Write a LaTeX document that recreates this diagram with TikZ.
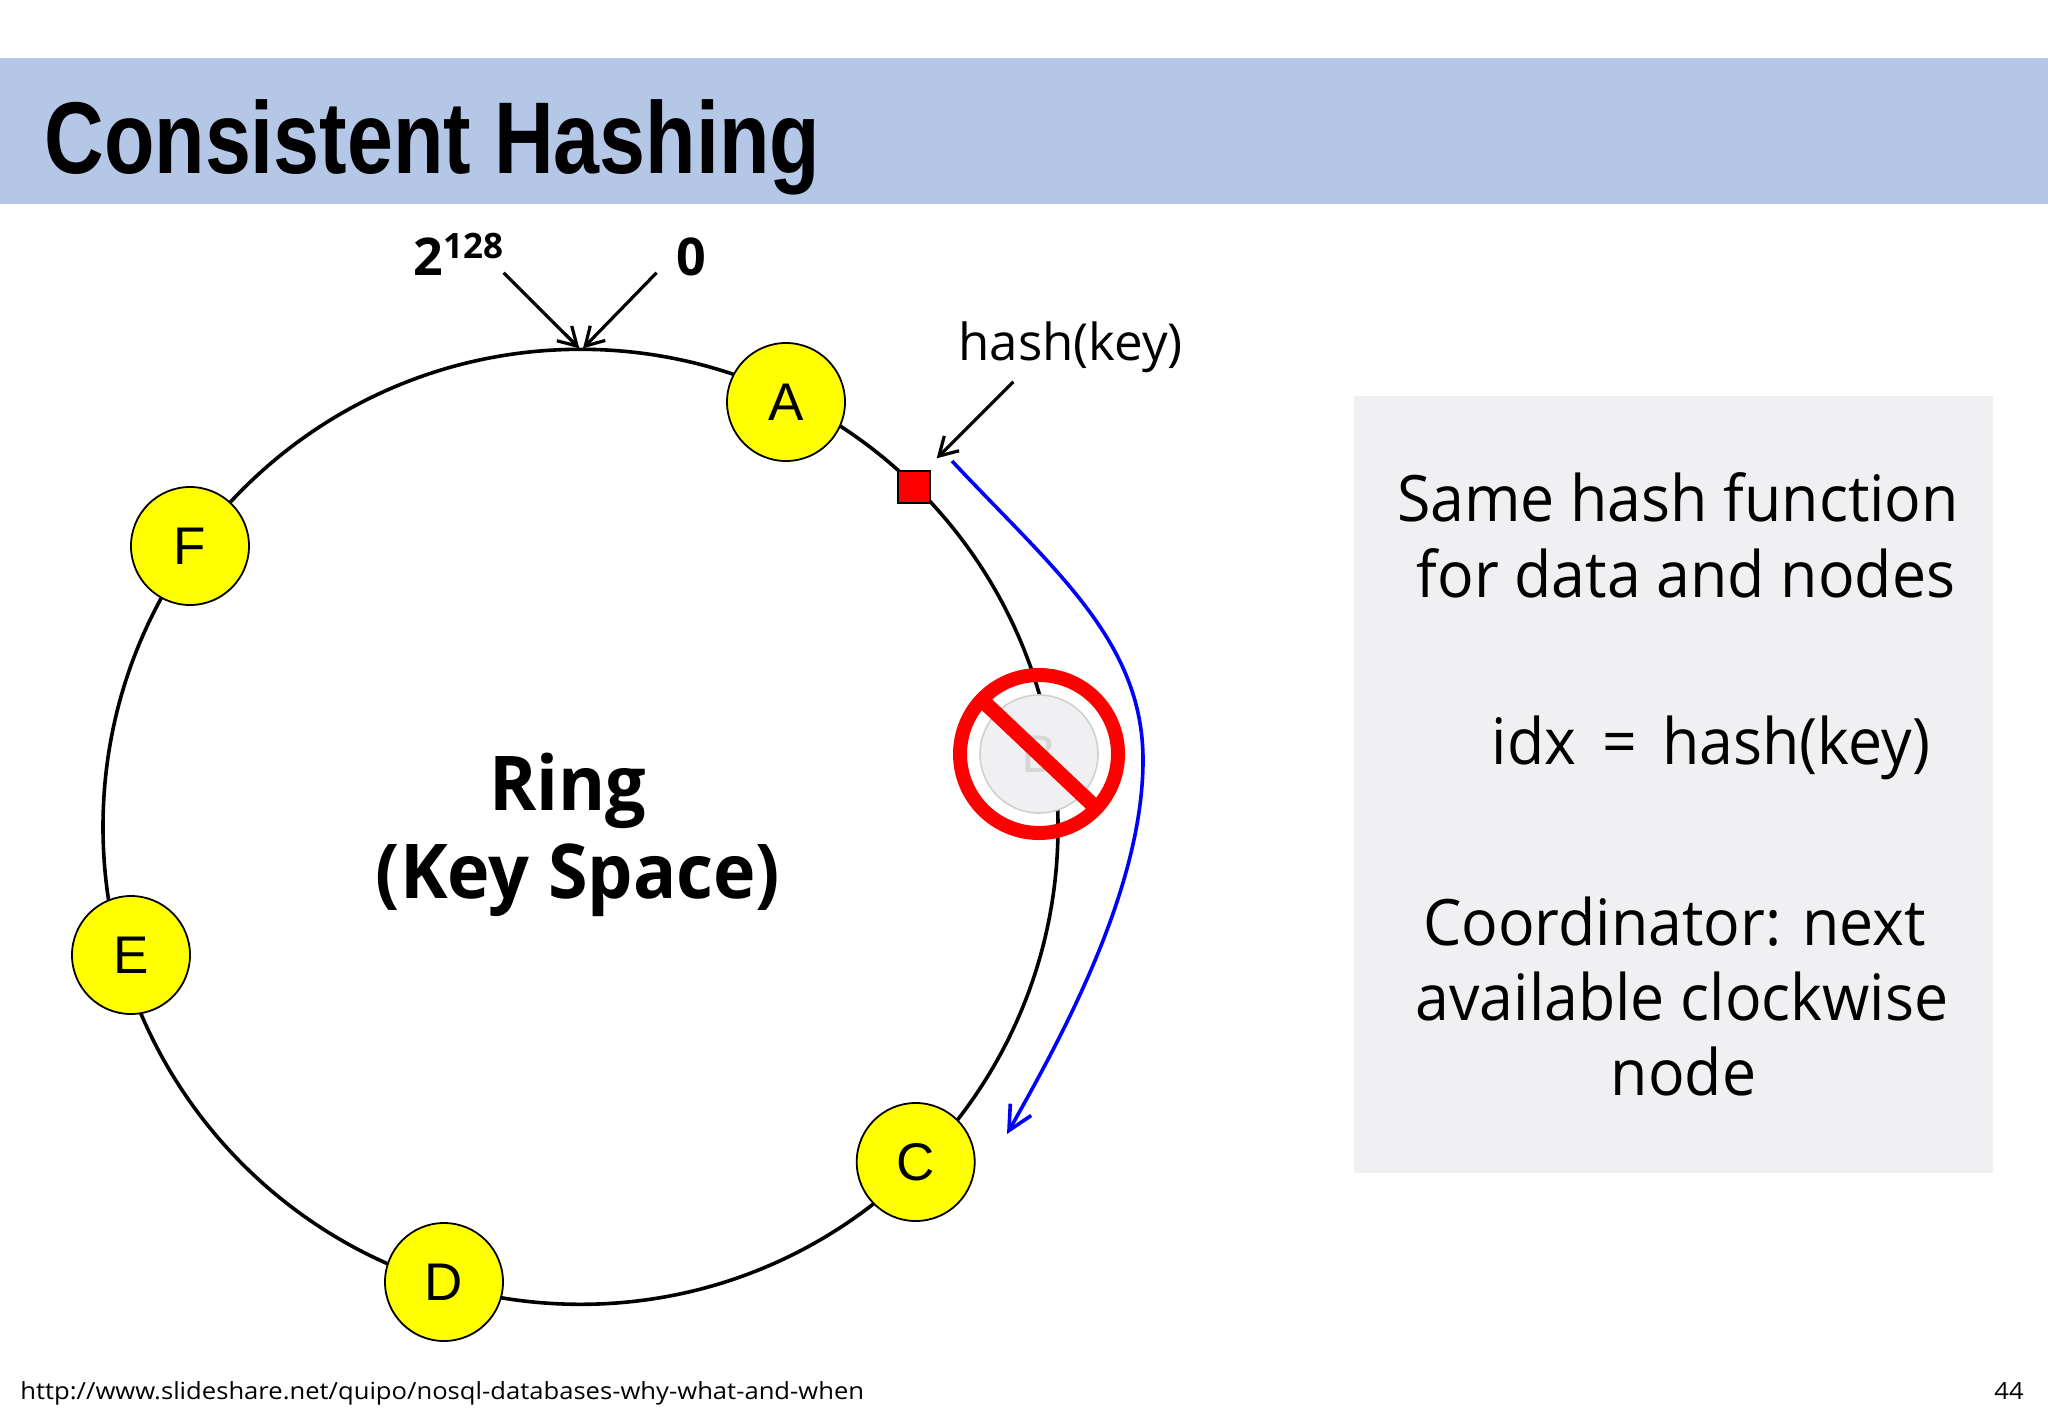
\documentclass[tikz,border=0pt]{standalone}
\usepackage{fontspec}
\setmainfont{Open Sans}
\newfontfamily\titlefont[FakeStretch=0.81]{Liberation Sans}
\newfontfamily\segoe[FakeStretch=0.95]{Open Sans}
\newfontfamily\segoebold[FakeStretch=0.95]{Open Sans}
\newfontfamily\footfont[FakeStretch=1.085]{Open Sans}
\newfontfamily\arialf{Liberation Sans}
\usetikzlibrary{arrows.meta}
\definecolor{barblue}{RGB}{180,199,231}
\definecolor{boxgray}{RGB}{240,240,243}
\definecolor{ghostfill}{RGB}{240,240,242}
\definecolor{ghostline}{RGB}{208,208,208}
\definecolor{ghosttext}{RGB}{214,214,214}
\definecolor{nodeyellow}{RGB}{255,255,0}
\definecolor{arrowblue}{RGB}{0,0,255}
\tikzset{
  keynode/.style={circle, draw=black, line width=0.9pt, fill=nodeyellow, minimum size=59pt, inner sep=0pt, outer sep=0pt, font=\arialf\fontsize{26.5}{26.5}\selectfont},
  ptr/.style={draw=black, line width=1.6pt, -{Straight Barb[length=9pt,width=10.5pt]}},
  sidetext/.style={font=\segoe\fontsize{32}{32}\selectfont, anchor=base, inner sep=0pt},
}
\begin{document}
\begin{tikzpicture}[x=0.5pt,y=-0.5pt]
\useasboundingbox (0,0) rectangle (2048,1418);
\fill[white] (0,0) rectangle (2048,1418);
% title bar
\fill[barblue] (0,58.5) rectangle (2048,204);
\node[anchor=base west, inner sep=0pt] (title) at (44,173) {\titlefont\bfseries\fontsize{51}{51}\selectfont Consistent Hashing};

% ring
\node[circle, draw=black, line width=1.8pt, minimum size=477.5pt, inner sep=0pt, outer sep=0pt] (ring) at (580.5,826.8) {};
\node[anchor=base, inner sep=0pt, font=\segoebold\bfseries\fontsize{37.8}{37.8}\selectfont] (ringlbl) at (568,810) {Ring};
\node[anchor=base, inner sep=0pt, font=\segoebold\bfseries\fontsize{37.8}{37.8}\selectfont] (keyspace) at (578,898) {(Key Space)};

% top labels and arrows
\node[anchor=base west, inner sep=0pt, font=\bfseries\fontsize{26}{26}\selectfont] (max) at (413,275) {2\raisebox{8.5pt}{\fontsize{17.5}{17.5}\selectfont 128}};
\node[anchor=base west, inner sep=0pt, font=\bfseries\fontsize{26}{26}\selectfont] (zero) at (676,275) {0};
\coordinate (p1) at (503.6,272.7);
\coordinate (t1) at (579.3,348.3);
\coordinate (p2) at (656.6,272.7);
\coordinate (t2) at (583,348.3);
\draw[ptr] (p1) -- (t1);
\draw[ptr] (p2) -- (t2);

% nodes on ring
\node[keynode] (A) at (786,402) {A};
\node[keynode] (F) at (190,546) {F};
\node[keynode] (E) at (131,955) {E};
\node[keynode] (D) at (444,1282) {D};
\node[keynode] (C) at (915.7,1162) {C};

% removed node B
\node[circle, draw=ghostline, line width=0.8pt, fill=ghostfill, minimum size=59pt, inner sep=0pt, text=ghosttext, font=\arialf\fontsize{26.5}{26.5}\selectfont] (B) at (1039,754) {B};
\draw[red, line width=7.5pt] (B.center) ++(-57.4,-54.3) -- ++(114.8,108.6);
\draw[red, line width=7pt] (B.center) circle[radius=39.5pt];

% key position
\node[rectangle, draw=black, line width=0.8pt, fill=red, minimum size=16pt, inner sep=0pt] (key) at (914,487) {};
\node[anchor=base west, inner sep=0pt, font=\fontsize{25.5}{25.5}\selectfont] (hashlbl) at (958,360.7) {hash(key)};
\coordinate (hk) at (1013.3,381.7);
\coordinate (hkt) at (936.7,458.3);
\draw[ptr] (hk) -- (hkt);

% clockwise walk
\coordinate (bs) at (952,461);
\coordinate (bm) at (1143,760);
\coordinate (be) at (1007,1134);
\draw[draw=arrowblue, line width=1.8pt, -{Straight Barb[length=12pt,width=12pt]}] (bs) .. controls (1052,568) and (1143,640) .. (bm) .. controls (1143,890) and (1060,1040) .. (be);

% info box
\node[fill=boxgray, minimum width=319.5pt, minimum height=388.5pt, inner sep=0pt, anchor=north west] (info) at (1354,396) {};
\node[sidetext] (s1) at (1678,521.7) {Same hash function};
\node[sidetext] (s2) at (1686,597) {for data and nodes};
\node[sidetext] (s3) at (1711,764) {idx\hspace{0.4em}=\hspace{0.4em}hash(key)};
\node[sidetext] (s4) at (1674.5,945) {Coordinator: next};
\node[sidetext] (s5) at (1682,1020) {available clockwise};
\node[sidetext] (s6) at (1683.5,1095) {node};

% footer
\node[anchor=base west, inner sep=0pt, font=\footfont\fontsize{11.8}{11.8}\selectfont] (url) at (20,1399) {http://www.slideshare.net/quipo/nosql-databases-why-what-and-when};
\node[anchor=base east, inner sep=0pt, font=\footfont\fontsize{11.8}{11.8}\selectfont] (pg) at (2024,1399) {44};
\end{tikzpicture}
\end{document}
